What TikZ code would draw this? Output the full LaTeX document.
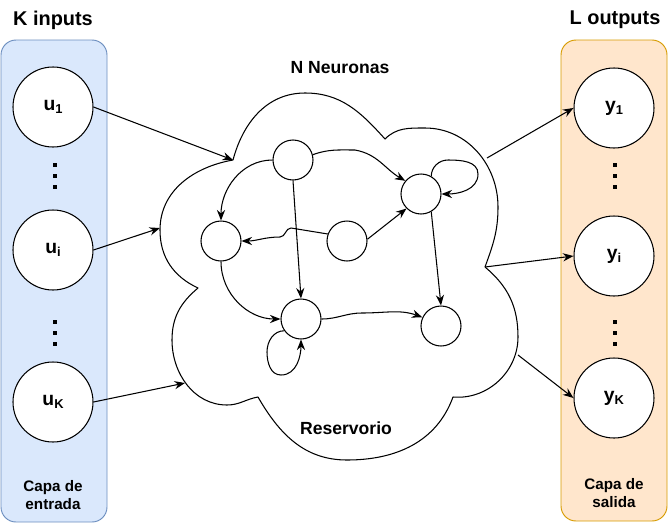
\documentclass[tikz,border=0pt]{standalone}
\usepackage{fontspec}
\setmainfont{Liberation Sans}
\usetikzlibrary{arrows.meta}
\definecolor{azulfondo}{HTML}{DAE8FC}
\definecolor{azulborde}{HTML}{6C8EBF}
\definecolor{naranjafondo}{HTML}{FFE6CC}
\definecolor{naranjaborde}{HTML}{D79B00}
\newcommand{\subind}[1]{\raisebox{-2.5pt}{\fontsize{11}{11}\selectfont #1}}

\begin{document}
\begin{tikzpicture}[x=0.03cm,y=0.03cm,>={Stealth[length=9pt,width=7pt,inset=3pt]},
capa/.style={rounded corners=0.45cm,line width=0.8pt},
grande/.style={circle,draw,fill=white,line width=0.9pt,minimum size=2.4cm,inner sep=0pt,font=\bfseries\fontsize{16.5}{18}\selectfont},
neurona/.style={circle,draw,fill=white,line width=0.9pt,minimum size=1.2cm,inner sep=0pt},
titulo/.style={font=\bfseries\fontsize{17}{20}\selectfont},
rotulo/.style={font=\bfseries\fontsize{13}{16}\selectfont,align=center},
]
\useasboundingbox (0,0) rectangle (668,-524);
% capas de entrada y salida
\draw[capa,draw=azulborde,fill=azulfondo] (1,-40) rectangle (107,-522);
\draw[capa,draw=naranjaborde,fill=naranjafondo] (561,-40) rectangle (667,-521);
\node[titulo] (kin) at (53,-20) {K inputs};
\node[titulo] (lout) at (615,-20) {L outputs};
\node[grande] (u1) at (53,-107) {u\subind{1}};
\node[grande] (ui) at (53,-250) {u\subind{i}};
\node[grande] (uK) at (53,-402) {u\subind{K}};
\node[grande] (y1) at (614,-108) {y\subind{1}};
\node[grande] (yi) at (614,-256) {y\subind{i}};
\node[grande] (yK) at (614,-398) {y\subind{K}};
\node[rotulo] (entrada) at (53,-495) {Capa de\\entrada};
\node[rotulo] (salida) at (614,-493) {Capa de\\salida};
\foreach \px in {55,615}
  \foreach \py in {165,176,187,322,333,344}
    \fill (\px-2.3,-\py-2.3) rectangle ++(4.6,4.6);
% reservorio (nube)
\draw[line width=0.9pt,line join=round] (233,-160) to[out=75,in=180] (305,-93) to[out=0,in=132] (385,-139)
  to[out=45,in=180] (425,-128) to[out=0,in=90] (498,-207) to[out=-90,in=70] (485,-267)
  to[out=-40,in=90] (518,-337) to[out=-90,in=-5] (453,-397)
  to[out=-110,in=0] (347,-460) to[out=180,in=-60] (258,-397)
  to[out=-170,in=0] (227,-405) to[out=180,in=-90] (172,-340) to[out=90,in=-140] (198,-288)
  to[out=155,in=-90] (160,-230) to[out=90,in=190] (233,-160);
\node[font=\bfseries\fontsize{15}{18}\selectfont] (nn) at (340,-68) {N Neuronas};
\node[font=\bfseries\fontsize{15}{18}\selectfont] (res) at (346,-428) {Reservorio};
\node[neurona] (n-sup) at (293,-160) {};
\node[neurona] (n-izq) at (221,-241) {};
\node[neurona] (n-cen) at (347,-241) {};
\node[neurona] (n-der) at (421,-194) {};
\node[neurona] (n-inf) at (301,-319) {};
\node[neurona] (n-esq) at (441,-326) {};
\coordinate (ent1) at (233,-160);
\coordinate (ent2) at (160,-228);
\coordinate (ent3) at (185,-383);
\coordinate (sal1) at (487,-158);
\coordinate (sal2) at (485,-267);
\coordinate (sal3) at (518,-355);
\begin{scope}[->, line width=0.9pt]
 \draw (u1.east)--(ent1);
 \draw (ui.east)--(ent2);
 \draw (uK.east)--(ent3);
 \draw (sal1)--(y1.west);
 \draw (sal2)--(yi.west);
 \draw (sal3)--(yK.west);
 \draw (n-sup.west) to[out=180,in=90] (n-izq.north);
 \draw (n-sup.south)--(n-inf.north);
 \draw (n-sup.15) to[out=20,in=180] (355,-150) to[out=-10,in=150] (n-der.140);
 \draw (n-cen.160)--(291,-228) to[out=180,in=0] (280,-237) to[out=180,in=0] (n-izq.east);
 \draw (n-cen.5)--(n-der.225);
 \draw (n-der.60) to[out=90,in=180] (448,-160) to[out=0,in=90] (478,-174) to[out=-90,in=0] (n-der.east);
 \draw (n-der.-60)--(n-esq.north);
 \draw (n-izq.south) to[out=-90,in=180] (n-inf.west);
 \draw (n-inf.east) to[out=0,in=180] (362,-313) to[out=0,in=160] (n-esq.155);
 \draw (n-inf.215) to[out=180,in=90] (267,-352) to[out=-90,in=180] (281,-375) to[out=0,in=-90] (n-inf.south);
\end{scope}
\end{tikzpicture}
\end{document}
